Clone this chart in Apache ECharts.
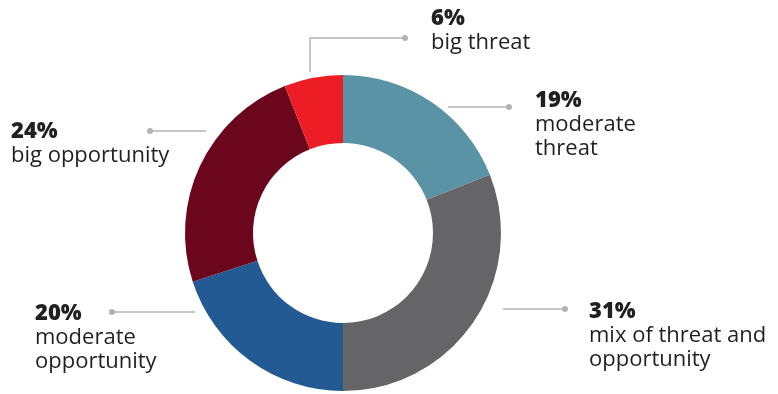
<!DOCTYPE html>
<html>
<head>
<meta charset="utf-8">
<script src="https://cdn.jsdelivr.net/npm/echarts@6/dist/echarts.min.js"></script>
<style>
  html, body { margin: 0; padding: 0; background: #fff; }
  #chart { width: 778px; height: 394px; }
</style>
</head>
<body>
<div id="chart"></div>
<script>
// Survey shares, clockwise from 12 o'clock
var categories = ['moderate\nthreat', 'mix of threat and\nopportunity', 'moderate\nopportunity', 'big opportunity', 'big threat'];
var shares = [19, 31, 20, 24, 6];
var sliceColors = ['#5a93a6', '#656567', '#235a94', '#6b061c', '#ed1d26'];

// Where each label block sits (top-left corner) and its leader line
var labelBoxes = [
  { x: 535, y: 88 },
  { x: 589, y: 299 },
  { x: 35, y: 301 },
  { x: 11, y: 119 },
  { x: 431, y: 6 }
];
var leaderLines = [
  [[448, 107], [478, 107], [509, 107]],
  [[503, 309], [534, 309], [565, 309]],
  [[195, 312], [153, 312], [112, 312]],
  [[206, 131], [178, 131], [150, 131]],
  [[310, 72], [310, 38], [405, 38]]
];

var chart = echarts.init(document.getElementById('chart'), null, { renderer: 'canvas' });

var pieData = categories.map(function (name, i) {
  return { name: name, value: shares[i], itemStyle: { color: sliceColors[i] } };
});

// Small dots at the outer end of each leader line
var dots = leaderLines.map(function (pts) {
  var end = pts[pts.length - 1];
  return {
    type: 'circle',
    shape: { cx: end[0], cy: end[1], r: 3 },
    style: { fill: '#b3b3b3' },
    z: 10
  };
});

chart.setOption({
  animation: false,
  backgroundColor: '#ffffff',
  graphic: dots,
  series: [{
    type: 'pie',
    center: [343, 233],
    radius: [90, 158],
    startAngle: 90,
    clockwise: true,
    silent: true,
    data: pieData,
    label: {
      show: true,
      overflow: 'none',
      formatter: function (p) { return '{p|' + p.value + '%}\n{t|' + p.name.split('\n').join('}\n{t|') + '}'; },
      color: '#231f20',
      fontFamily: 'Open Sans',
      rich: {
        p: { fontSize: 22, fontWeight: 800, lineHeight: 25, color: '#231f20', fontFamily: 'Open Sans' },
        t: { fontSize: 22, fontWeight: 'normal', lineHeight: 24, color: '#231f20', fontFamily: 'Open Sans' }
      }
    },
    labelLine: {
      show: true,
      lineStyle: { color: '#b3b3b3', width: 1.5 }
    },
    labelLayout: function (params) {
      var i = params.dataIndex;
      return {
        x: labelBoxes[i].x,
        y: labelBoxes[i].y,
        align: 'left',
        verticalAlign: 'top',
        labelLinePoints: leaderLines[i]
      };
    }
  }]
});
</script>
</body>
</html>
